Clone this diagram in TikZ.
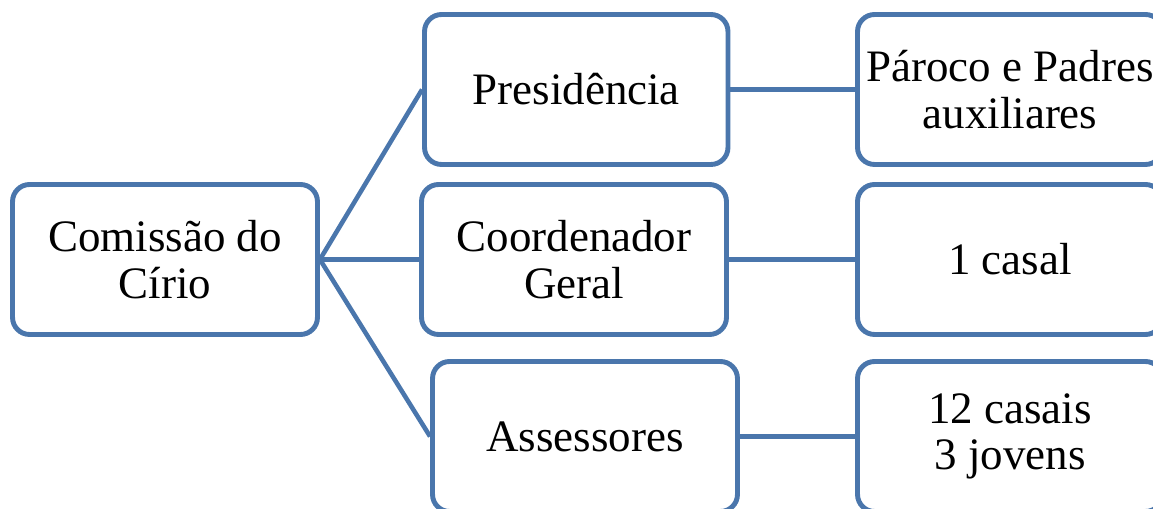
\documentclass[tikz,border=0pt]{standalone}
\usepackage{fontspec}
\setmainfont{Liberation Serif}
\definecolor{boxblue}{RGB}{74,118,172}
\begin{document}
\begin{tikzpicture}[x=0.02cm,y=-0.02cm,
  orgbox/.style={draw=boxblue, line width=2.8pt, fill=white, rounded corners=0.34cm,
    minimum width=6.1cm, minimum height=3.0cm, inner sep=0pt, align=center,
    font=\fontsize{25.6}{26.6}\selectfont},
  link/.style={draw=boxblue, line width=2.6pt}]
\useasboundingbox (0,0) rectangle (1153,509);
\clip (0,0) rectangle (1153,509);
\node[orgbox] (com) at (165,259.5) {Comissão do\\Círio};
\node[orgbox, minimum width=6.07cm] (pres) at (576.25,89.5) {Presidência};
\node[orgbox] (coord) at (574,259.5) {Coordenador\\Geral};
\node[orgbox] (ass) at (585,436.5) {Assessores};
\node[orgbox] (par) at (1010,89.5) {Pároco e Padres\\auxiliares};
\node[orgbox] (cas) at (1010,259.5) {1 casal};
\node[orgbox] (jov) at (1010,436.5) {12 casais\\3 jovens};
\draw[link] (com.east) -- (pres.west);
\draw[link] (com.east) -- (coord.west);
\draw[link] (com.east) -- (ass.west);
\draw[link] (pres.east) -- (par.west);
\draw[link] (coord.east) -- (cas.west);
\draw[link] (ass.east) -- (jov.west);
\end{tikzpicture}
\end{document}
